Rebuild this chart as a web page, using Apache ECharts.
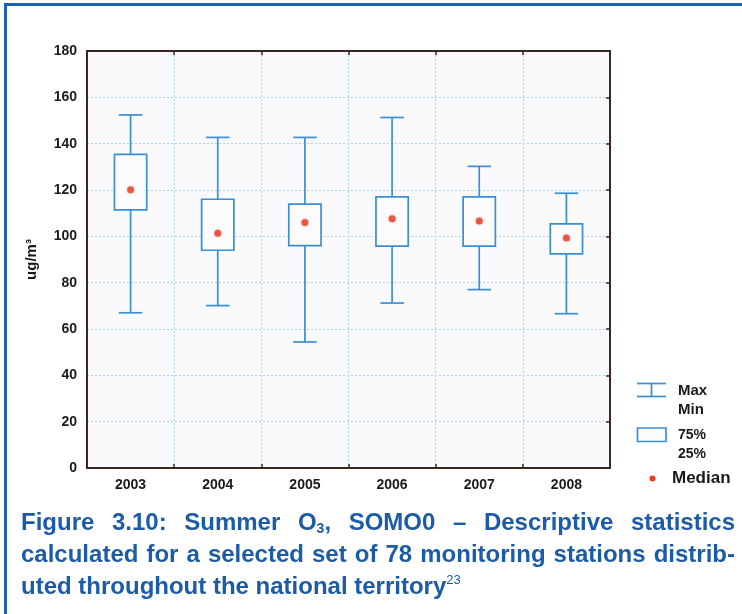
<!DOCTYPE html>
<html>
<head>
<meta charset="utf-8">
<script src="https://cdn.jsdelivr.net/npm/echarts@6/dist/echarts.min.js"></script>
<style>
  html, body { margin: 0; padding: 0; background: #ffffff; }
  #wrap { position: relative; width: 742px; height: 614px; overflow: hidden; background: #fff; }
  #chart { position: absolute; left: 0; top: 0; width: 742px; height: 614px; }
  #frameTop { position: absolute; left: 4px; top: 3px; width: 740px; height: 0; border-top: 3px solid #1a62b2; }
  #frameLeft { position: absolute; left: 4px; top: 3px; width: 0; height: 620px; border-left: 3px solid #1a62b2; }
  .cap { position: absolute; left: 21px; color: #1b5ca8; font-family: "Liberation Sans", Arial, sans-serif; font-weight: bold; font-size: 24px; line-height: 32px; white-space: nowrap; transform-origin: 0 0; }
  .just { text-align: justify; text-align-last: justify; }
  .cap sub { font-size: 14px; vertical-align: -3px; line-height: 0; }
  .cap sup { font-size: 13px; font-weight: normal; vertical-align: 10px; line-height: 0; }
  .probe { position: absolute; visibility: hidden; white-space: nowrap; font-family: "Liberation Sans", Arial, sans-serif; font-weight: bold; font-size: 24px; }
</style>
</head>
<body>
<div id="wrap">
  <div id="chart"></div>
  <div id="frameTop"></div>
  <div id="frameLeft"></div>
  <div id="cap1" class="cap just" style="top:506px;">Figure 3.10: Summer O<sub>3</sub>, SOMO0 – Descriptive statistics</div>
  <div id="cap2" class="cap just" style="top:538px;">calculated for a selected set of 78 monitoring stations distrib-</div>
  <div id="cap3" class="cap" style="top:570px;">uted throughout the national territory<sup>23</sup></div>
  <span id="probe" class="probe">calculated for a selected set of 78 monitoring stations distrib-</span>
</div>
<script>
// ---- data ----
const years = ['2003', '2004', '2005', '2006', '2007', '2008'];
const minVals = [67.0, 70.1, 54.4, 71.2, 77.0, 66.6];
const q1Vals = [111.4, 94.0, 96.0, 95.8, 95.8, 92.4];
const medianVals = [120.1, 101.3, 106.0, 107.6, 106.6, 99.3];
const q3Vals = [135.4, 116.0, 113.9, 117.0, 117.0, 105.4];
const maxVals = [152.4, 142.7, 142.7, 151.3, 130.2, 118.6];
const yMin = 0, yMax = 180, yStep = 20;
const yAxisName = 'ug/m³';
const legendLabels = { maxmin: ['Max', 'Min'], box: ['75%', '25%'], median: 'Median' };

// caption: condensed look by horizontal scaling to fit the column width
(function () {
  const target = 712;
  const natural = document.getElementById('probe').getBoundingClientRect().width;
  const s = Math.min(1, target / natural);
  ['cap1', 'cap2', 'cap3'].forEach(function (id) {
    const el = document.getElementById(id);
    el.style.transform = 'scaleX(' + s + ')';
    if (id !== 'cap3') el.style.width = (714 / s) + 'px';
  });
})();

const BLUE = '#3a8ed6';
const RED = '#ea3b25';
const AXIS = '#3a2620';
const GRIDC = '#a9d2ef';
const FONT = '"Liberation Sans", Arial, sans-serif';

const boxData = years.map((y, i) => [i, minVals[i], q1Vals[i], medianVals[i], q3Vals[i], maxVals[i]]);

const chart = echarts.init(document.getElementById('chart'), null, { renderer: 'canvas' });

const option = {
  backgroundColor: '#ffffff',
  animation: false,
  grid: { left: 87, right: 132, top: 51, bottom: 146, show: true, backgroundColor: '#fafafd', borderWidth: 0 },
  xAxis: [
    {
      type: 'category', data: years, boundaryGap: true,
      axisLine: { show: true, lineStyle: { color: AXIS, width: 2 } },
      axisTick: { show: true, inside: true, length: 4, lineStyle: { color: AXIS, width: 1.5 } },
      axisLabel: { color: '#1a1a1a', fontFamily: FONT, fontWeight: 'bold', fontSize: 14, margin: 10 },
      splitLine: { show: true, lineStyle: { color: GRIDC, type: [2, 2], width: 1 } }
    },
    {
      type: 'category', data: years, boundaryGap: true, position: 'top',
      axisLine: { show: true, onZero: false, lineStyle: { color: AXIS, width: 2 } },
      axisTick: { show: true, inside: true, length: 4, lineStyle: { color: AXIS, width: 1.5 } },
      axisLabel: { show: false }, splitLine: { show: false }
    }
  ],
  yAxis: [
    {
      type: 'value', min: yMin, max: yMax, interval: yStep,
      name: yAxisName, nameLocation: 'middle', nameGap: 48, nameRotate: 90,
      nameTextStyle: { color: '#1a1a1a', fontFamily: FONT, fontWeight: 'bold', fontSize: 15 },
      axisLine: { show: true, lineStyle: { color: AXIS, width: 2 } },
      axisTick: { show: false },
      axisLabel: { color: '#1a1a1a', fontFamily: FONT, fontWeight: 'bold', fontSize: 14, margin: 10 },
      splitLine: { show: true, lineStyle: { color: GRIDC, type: [2, 2], width: 1 } }
    },
    {
      type: 'value', min: yMin, max: yMax, interval: yStep, position: 'right',
      axisLine: { show: true, onZero: false, lineStyle: { color: AXIS, width: 2 } },
      axisTick: { show: true, inside: true, length: 4, lineStyle: { color: AXIS, width: 1.5 } },
      axisLabel: { show: false }, splitLine: { show: false }
    }
  ],
  series: [
    {
      type: 'custom',
      xAxisIndex: 0, yAxisIndex: 0,
      data: boxData,
      encode: { x: 0, y: [1, 2, 3, 4, 5] },
      z: 3,
      renderItem: function (params, api) {
        const i = api.value(0);
        const band = api.size([1, 0])[0];
        const bw = band * 0.37, cw = band * 0.27;
        const pMin = api.coord([i, api.value(1)]);
        const pQ1 = api.coord([i, api.value(2)]);
        const pQ3 = api.coord([i, api.value(4)]);
        const pMax = api.coord([i, api.value(5)]);
        const x = pMin[0];
        const ls = { stroke: BLUE, lineWidth: 1.7, fill: null };
        return {
          type: 'group',
          children: [
            { type: 'line', shape: { x1: x, y1: pQ3[1], x2: x, y2: pMax[1] }, style: ls },
            { type: 'line', shape: { x1: x, y1: pQ1[1], x2: x, y2: pMin[1] }, style: ls },
            { type: 'line', shape: { x1: x - cw / 2, y1: pMax[1], x2: x + cw / 2, y2: pMax[1] }, style: ls },
            { type: 'line', shape: { x1: x - cw / 2, y1: pMin[1], x2: x + cw / 2, y2: pMin[1] }, style: ls },
            { type: 'rect', shape: { x: x - bw / 2, y: pQ3[1], width: bw, height: pQ1[1] - pQ3[1] },
              style: { fill: '#fcfcff', stroke: BLUE, lineWidth: 1.7 } }
          ]
        };
      }
    },
    {
      type: 'scatter',
      xAxisIndex: 0, yAxisIndex: 0,
      data: medianVals,
      symbol: 'circle', symbolSize: 7,
      itemStyle: { color: RED, shadowBlur: 3, shadowColor: 'rgba(234,59,37,0.5)' },
      z: 5
    }
  ],
  graphic: [
    { type: 'line', shape: { x1: 637, y1: 383.5, x2: 666, y2: 383.5 }, style: { stroke: BLUE, lineWidth: 1.7 } },
    { type: 'line', shape: { x1: 637, y1: 396.5, x2: 666, y2: 396.5 }, style: { stroke: BLUE, lineWidth: 1.7 } },
    { type: 'line', shape: { x1: 651.5, y1: 383.5, x2: 651.5, y2: 396.5 }, style: { stroke: BLUE, lineWidth: 1.7 } },
    { type: 'text', x: 678, y: 391, style: { text: legendLabels.maxmin[0], fill: '#1a1a1a', font: 'bold 15px ' + FONT, textVerticalAlign: 'middle' } },
    { type: 'text', x: 678, y: 410, style: { text: legendLabels.maxmin[1], fill: '#1a1a1a', font: 'bold 15px ' + FONT, textVerticalAlign: 'middle' } },
    { type: 'rect', shape: { x: 637.5, y: 428, width: 28.5, height: 13.5 }, style: { fill: '#fcfcff', stroke: BLUE, lineWidth: 1.7 } },
    { type: 'text', x: 678, y: 435, style: { text: legendLabels.box[0], fill: '#1a1a1a', font: 'bold 14px ' + FONT, textVerticalAlign: 'middle' } },
    { type: 'text', x: 678, y: 454, style: { text: legendLabels.box[1], fill: '#1a1a1a', font: 'bold 14px ' + FONT, textVerticalAlign: 'middle' } },
    { type: 'circle', shape: { cx: 652.5, cy: 478.5, r: 3 }, style: { fill: RED } },
    { type: 'text', x: 672, y: 478, style: { text: legendLabels.median, fill: '#1a1a1a', font: 'bold 17px ' + FONT, textVerticalAlign: 'middle' } }
  ]
};
chart.setOption(option);
</script>
</body>
</html>
